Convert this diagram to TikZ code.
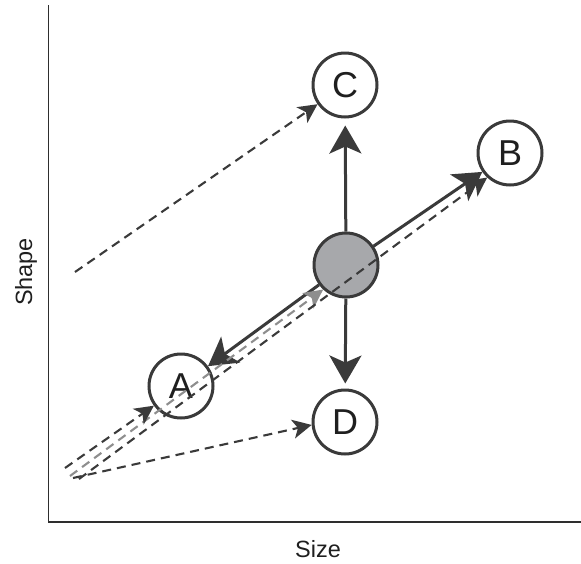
\documentclass[tikz,border=0pt]{standalone}
\usepackage{fontspec}
\setmainfont{Liberation Sans}
\usetikzlibrary{arrows.meta}
\definecolor{ink}{HTML}{3A3A3A}
\definecolor{hub}{HTML}{A7A8AB}
\definecolor{trace}{HTML}{8E8E8E}
\definecolor{axis}{HTML}{2E2E2E}

\begin{document}
\begin{tikzpicture}[x=1pt,y=-1pt,
  state/.style={circle, draw=ink, line width=3pt, fill=white, minimum size=64pt,
    inner sep=0pt, font=\fontsize{36}{36}\selectfont, text=black!88},
  hubnode/.style={state, fill=hub},
  bigarrow/.style={draw=ink, line width=3pt, -{Stealth[length=28pt,width=32pt,inset=7pt]}},
  move/.style={draw=ink, line width=2.1pt, dash pattern=on 9pt off 6pt,
    -{Stealth[length=19pt,width=19pt,inset=5pt]}},
  lighttrace/.style={move, draw=trace},
  axislabel/.style={font=\fontsize{23.5}{23.5}\selectfont, text=black!88, inner sep=0pt}
]
\useasboundingbox (0,0) rectangle (581,563);

% axes
\draw[axis, line width=1.3pt] (48.5,5) -- (48.5,522) -- (581,522);
\node[axislabel] (xlab) at (318,549) {Size};
\node[axislabel, rotate=90] (ylab) at (26,272) {Shape};

% states
\node[hubnode] (M) at (346,265) {};
\node[state] (A) at (181,386) {A};
\node[state] (B) at (510,153) {B};
\node[state] (C) at (345,85) {C};
\node[state] (D) at (345,422) {D};

% moves out of the central state
\draw[bigarrow] (M) -- (A);
\draw[bigarrow] (M) -- (B);
\draw[bigarrow, shorten >=7pt] (M) -- (C);
\draw[bigarrow, shorten >=5pt] (M) -- (D);

% dashed trajectories
\coordinate (sA) at (65,468);
\coordinate (sM) at (70,476);
\coordinate (sB) at (79,479);
\coordinate (sD) at (73,478);
\coordinate (sC) at (75,272);

\draw[lighttrace] (sM) -- (M.227);
\draw[move] (sA) -- (A.216);
\draw[move] (sB) -- (B.227);
\draw[move] (sD) -- (D.185);
\draw[move] (sC) -- (C.215);
\end{tikzpicture}
\end{document}
